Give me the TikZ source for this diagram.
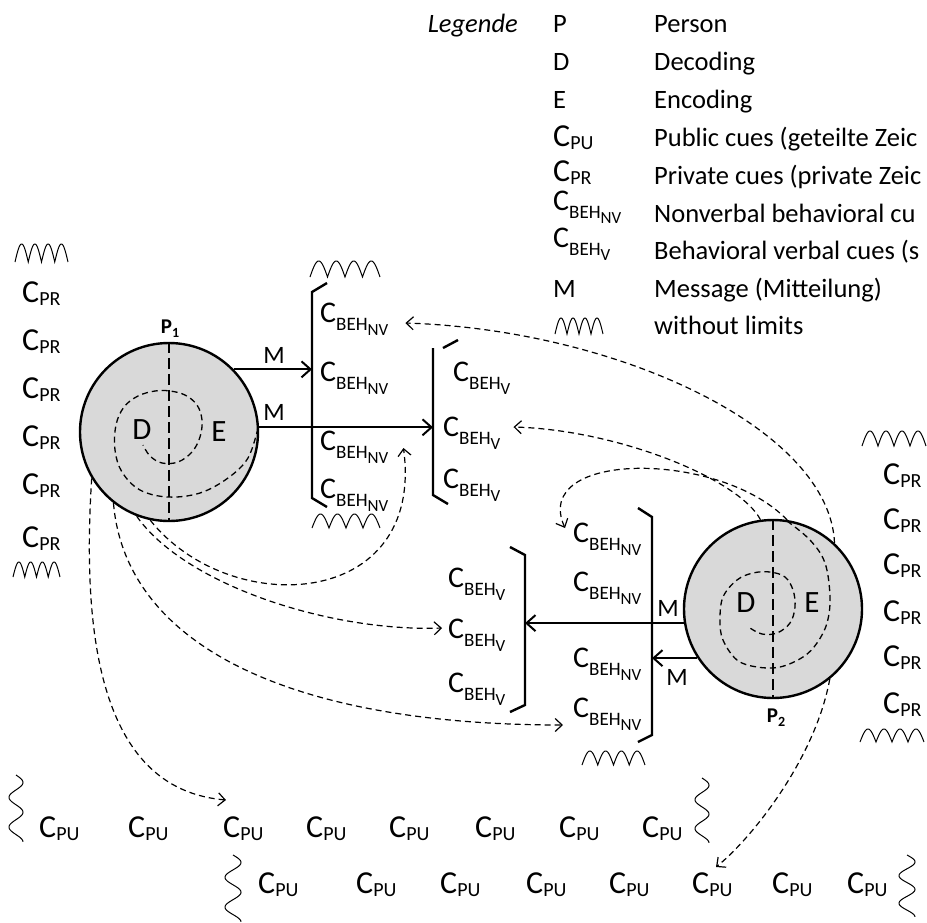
\documentclass[tikz,border=0pt]{standalone}
\usepackage{fontspec}
\setmainfont{Carlito}
\usetikzlibrary{arrows.meta,calc}

% cue labels: C with one subscript, and C_BEH with a second-level subscript
\newcommand{\cueA}[1]{{\fontsize{32}{32}\selectfont C}\raisebox{-3pt}{\fontsize{20}{20}\selectfont #1}}
\newcommand{\cueB}[1]{{\fontsize{30}{30}\selectfont C}\raisebox{-8pt}{\fontsize{19}{19}\selectfont BEH\raisebox{-5pt}{\fontsize{17}{17}\selectfont #1}}}
% horizontal "without limits" wave: left x, baseline y, width, height
\newcommand{\hwave}[4]{\draw[wave] plot[domain=0:4,samples=161] ({#1+\x*#3/4},{#2-#4*abs(sin(\x*180))});}
% vertical wave: centre x, top y, height, amplitude
\newcommand{\vwave}[4]{\draw[wave] plot[domain=0:1,samples=161] ({#1+#4*sin(\x*810)},{#2+\x*#3});}

\tikzset{
  lbl/.style={inner sep=0pt, anchor=base west},
  person/.style={circle, draw, line width=2.4pt, fill=black!15, minimum size=178pt, inner sep=0pt},
  msg/.style={line width=2pt, -{Straight Barb[length=9pt,width=16pt]}},
  cueflow/.style={line width=1.2pt, dash pattern=on 6pt off 4pt, -{Straight Barb[length=7pt,width=13pt]}},
  bracket/.style={line width=2.4pt},
  spiral/.style={line width=1.3pt, dash pattern=on 6pt off 4pt},
  midline/.style={line width=1.5pt, dash pattern=on 11pt off 5pt},
  wave/.style={line width=1pt},
  mlabel/.style={inner sep=0pt, font=\fontsize{25}{25}\selectfont},
  letter/.style={inner sep=0pt, font=\fontsize{31}{31}\selectfont},
}

\begin{document}
\begin{tikzpicture}[x=1pt,y=-1pt,font=\fontsize{26.5}{30}\selectfont]
\useasboundingbox (0,0) rectangle (927,922);
\clip (0,0) rectangle (927,922);

% ---------- legend ----------
\node[lbl, anchor=base east, font=\fontsize{26.5}{30}\selectfont\itshape] (legend) at (518,32) {Legende};
\node[lbl] (lgP)  at (553,32)  {P};
\node[lbl] (lgD)  at (553,70)  {D};
\node[lbl] (lgE)  at (553,108) {E};
\node[lbl] (lgPU) at (553,146) {\cueA{PU}};
\node[lbl] (lgPR) at (553,181) {\cueA{PR}};
\node[lbl] (lgNV) at (553,210) {\cueB{NV}};
\node[lbl] (lgV)  at (553,247) {\cueB{V}};
\node[lbl] (lgM)  at (553,297) {M};
\hwave{555}{334}{48}{16}
\node[lbl] (txP)  at (654,32)  {Person};
\node[lbl] (txD)  at (654,70)  {Decoding};
\node[lbl] (txE)  at (654,108) {Encoding};
\node[lbl] (txPU) at (654,146) {Public cues (geteilte Zeic};
\node[lbl] (txPR) at (654,184) {Private cues (private Zeic};
\node[lbl] (txNV) at (654,222) {Nonverbal behavioral cu};
\node[lbl] (txV)  at (654,259) {Behavioral verbal cues (s};
\node[lbl] (txM)  at (654,297) {Message (Mitteilung)};
\node[lbl] (txW)  at (654,334) {without limits};

% ---------- private cues of P1 (left column) ----------
\hwave{15}{262}{53}{18}
\node[lbl] (prL1) at (22,302) {\cueA{PR}};
\node[lbl] (prL2) at (22,350) {\cueA{PR}};
\node[lbl] (prL3) at (22,398) {\cueA{PR}};
\node[lbl] (prL4) at (22,446) {\cueA{PR}};
\node[lbl] (prL5) at (22,494) {\cueA{PR}};
\node[lbl] (prL6) at (22,547) {\cueA{PR}};
\hwave{13}{577}{47}{15}

% ---------- private cues of P2 (right column) ----------
\hwave{862}{446}{64}{15}
\node[lbl] (prR1) at (883,484) {\cueA{PR}};
\node[lbl] (prR2) at (883,529) {\cueA{PR}};
\node[lbl] (prR3) at (883,574) {\cueA{PR}};
\node[lbl] (prR4) at (883,621) {\cueA{PR}};
\node[lbl] (prR5) at (883,666) {\cueA{PR}};
\node[lbl] (prR6) at (883,713) {\cueA{PR}};
\hwave{860}{742}{64}{13}

% ---------- persons ----------
\node[person] (p1) at (169,432) {};
\node[person] (p2) at (773,609) {};
\draw[midline] (p1.north) -- (p1.south);
\draw[midline] (p2.north) -- (p2.south);
\draw[spiral] plot[smooth, tension=0.6] coordinates {(258,428) (248,458) (228,478) (200,493) (168,497) (140,490) (122,472) (115,450) (116,425) (124,407) (138,396) (155,391) (170,391) (185,395) (197,405) (202,420) (200,437) (192,452) (178,462) (162,463) (150,456) (143,445)};
\draw[spiral] plot[smooth, tension=0.6] coordinates {(787,521) (810,540) (825,563) (830,597) (827,623) (817,643) (803,657) (780,667) (757,667) (737,660) (723,640) (720,620) (723,597) (737,580) (753,573) (770,572) (785,577) (793,590) (795,607) (790,623) (777,633) (762,634) (750,628)};
\node[letter] (d1) at (142,430) {D};
\node[letter] (e1) at (219,432) {E};
\node[letter] (d2) at (746,603) {D};
\node[letter] (e2) at (812,603) {E};
\node[inner sep=0pt, font=\fontsize{21}{21}\selectfont\bfseries] (p1lbl) at (170,329) {P\raisebox{-4pt}{\fontsize{14}{14}\selectfont 1}};
\node[inner sep=0pt, font=\fontsize{21}{21}\selectfont\bfseries] (p2lbl) at (776,718) {P\raisebox{-4pt}{\fontsize{14}{14}\selectfont 2}};

% ---------- bracket 1: nonverbal cues sent by P1 ----------
\coordinate (br1top) at (312,292);
\coordinate (br1bot) at (312,498);
\draw[bracket] ($(br1top)+(15,-9)$) -- (br1top) -- (br1bot) -- ($(br1bot)+(15,9)$);
\hwave{310}{277}{70}{16}
\hwave{312}{528}{68}{14}
\node[lbl] (nvA1) at (320,322) {\cueB{NV}};
\node[lbl] (nvA2) at (320,381) {\cueB{NV}};
\node[lbl] (nvA3) at (320,450) {\cueB{NV}};
\node[lbl] (nvA4) at (320,498) {\cueB{NV}};

% ---------- bracket 2: verbal cues sent by P1 ----------
\coordinate (br2top) at (433,348);
\coordinate (br2bot) at (433,495);
\draw[bracket] (br2top) -- (br2bot) -- ($(br2bot)+(15,9)$);
\draw[bracket] ($(br2top)+(10,0)$) -- ($(br2top)+(25,-8)$);
\node[lbl] (vA1) at (453,381) {\cueB{V}};
\node[lbl] (vA2) at (443,436) {\cueB{V}};
\node[lbl] (vA3) at (443,488) {\cueB{V}};

% ---------- bracket 3: verbal cues sent by P2 ----------
\coordinate (br3top) at (525,555);
\coordinate (br3bot) at (525,705);
\draw[bracket] ($(br3top)+(-15,-8)$) -- (br3top) -- (br3bot) -- ($(br3bot)+(-15,7)$);
\node[lbl] (vB1) at (448,587) {\cueB{V}};
\node[lbl] (vB2) at (448,638) {\cueB{V}};
\node[lbl] (vB3) at (448,692) {\cueB{V}};

% ---------- bracket 4: nonverbal cues sent by P2 ----------
\coordinate (br4top) at (652,517);
\coordinate (br4bot) at (652,735);
\draw[bracket] ($(br4top)+(-14,-9)$) -- (br4top) -- (br4bot) -- ($(br4bot)+(-14,7)$);
\hwave{582}{765}{63}{14}
\node[lbl] (nvB1) at (573,542) {\cueB{NV}};
\node[lbl] (nvB2) at (573,591) {\cueB{NV}};
\node[lbl] (nvB3) at (573,667) {\cueB{NV}};
\node[lbl] (nvB4) at (573,717) {\cueB{NV}};

% ---------- public cues ----------
\vwave{16}{775}{67}{7}
\node[lbl] (puA1) at (39,837)  {\cueA{PU}};
\node[lbl] (puA2) at (128,837) {\cueA{PU}};
\node[lbl] (puA3) at (223,837) {\cueA{PU}};
\node[lbl] (puA4) at (306,837) {\cueA{PU}};
\node[lbl] (puA5) at (389,837) {\cueA{PU}};
\node[lbl] (puA6) at (475,837) {\cueA{PU}};
\node[lbl] (puA7) at (559,837) {\cueA{PU}};
\node[lbl] (puA8) at (642,837) {\cueA{PU}};
\vwave{702}{778}{65}{7}
\vwave{233}{855}{67}{8}
\node[lbl] (puB1) at (258,893) {\cueA{PU}};
\node[lbl] (puB2) at (356,893) {\cueA{PU}};
\node[lbl] (puB3) at (440,893) {\cueA{PU}};
\node[lbl] (puB4) at (526,893) {\cueA{PU}};
\node[lbl] (puB5) at (609,893) {\cueA{PU}};
\node[lbl] (puB6) at (692,893) {\cueA{PU}};
\node[lbl] (puB7) at (772,893) {\cueA{PU}};
\node[lbl] (puB8) at (847,893) {\cueA{PU}};
\vwave{907}{855}{62}{8}

% ---------- messages ----------
\draw[msg] (p1.44) -- (p1.44 -| br1top);
\draw[msg] (p1.3) -- (p1.3 -| br2top);
\draw[msg] (p2.189) -- (p2.189 -| br3top);
\draw[msg] (p2.213) -- (p2.213 -| br4top);
\node[mlabel] (m1) at (274,355) {M};
\node[mlabel] (m2) at (274,412) {M};
\node[mlabel] (m3) at (668,608) {M};
\node[mlabel] (m4) at (677,677) {M};

% ---------- cues perceived ----------
\draw[cueflow] (p1.211) .. controls (80,660) and (110,790) .. ($(puA3.base west)+(3,-37)$);
\draw[cueflow] (p1.232) .. controls (125,640) and (280,725) .. ($(nvB4.base west)+(-10,8)$);
\draw[cueflow] (p1.249) .. controls (185,585) and (330,632) .. ($(vB2.base west)+(-6,-10)$);
\draw[cueflow] (p1.258) .. controls (230,620) and (425,610) .. ($(nvA3.base east)+(15,-2)$);
\draw[cueflow] (p2.98) .. controls (740,480) and (620,430) .. ($(vA2.base east)+(13,-9)$);
\draw[cueflow] (p2.81) .. controls (720,450) and (530,450) .. ($(nvB1.base west)+(-8,-14)$);
\draw[cueflow] (p2.47) .. controls (830,430) and (620,330) .. ($(nvA1.base east)+(17,1)$);
\draw[cueflow] (p2.-51) .. controls (815,760) and (750,840) .. ($(puB6.base west)+(24,-26)$);
\end{tikzpicture}
\end{document}
